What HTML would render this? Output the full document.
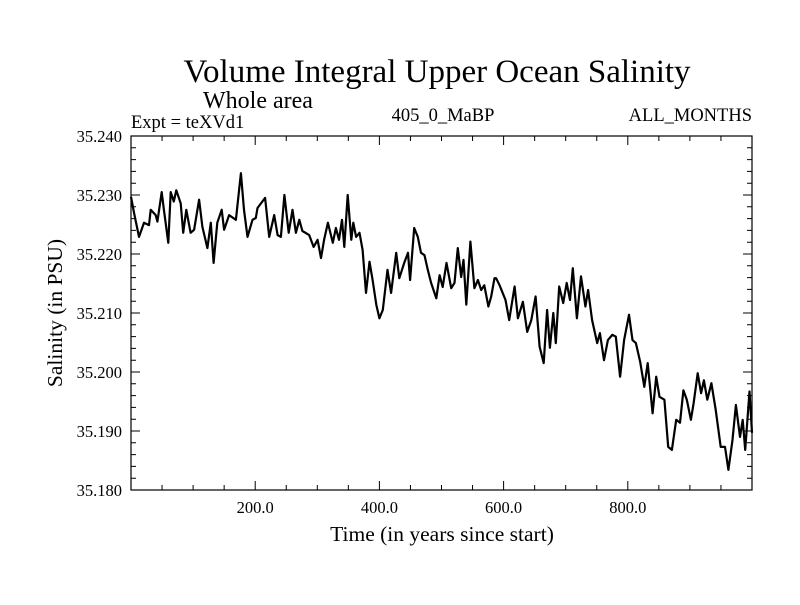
<!DOCTYPE html>
<html><head><meta charset="utf-8"><style>
body{margin:0;background:#fff;}
svg text{font-family:"Liberation Serif",serif;fill:#000;}
</style></head><body>
<svg id="chart" width="800" height="600" xmlns="http://www.w3.org/2000/svg">
<text x="437" y="82" font-size="33" text-anchor="middle">Volume Integral Upper Ocean Salinity</text>
<text x="203" y="108" font-size="24">Whole area</text>
<text x="131" y="128" font-size="18.5">Expt = teXVd1</text>
<text x="443" y="121" font-size="18.5" text-anchor="middle">405_0_MaBP</text>
<text x="752" y="121" font-size="18.5" text-anchor="end">ALL_MONTHS</text>
<text x="442" y="541" font-size="21.5" text-anchor="middle">Time (in years since start)</text>
<text transform="translate(62,313) rotate(-90)" font-size="21.5" text-anchor="middle">Salinity (in PSU)</text>
<g id="axes"></g>
<path id="line" fill="none" stroke="#000" stroke-width="2.2" stroke-linejoin="round"/>
<rect x="131" y="136" width="621" height="354" fill="none" stroke="#000" stroke-width="1.2"/>
</svg>
<script>
const years=[0,4.8,12.9,21,29,31.7,39.8,42.5,49.5,53,60,64,69,73,80,84,89,96,101.6,109.7,115,123,128.5,133,139,146,150,158,169,177,182,187.6,195.7,201,203.7,216,222.6,230.6,236,241.4,247,254,260,265.6,271,276,287,294,300.5,306,311,317,325,330,335,339.8,343.5,349,354.8,358,362.5,368,373,378.5,384,389,395,400,405.4,413,418.8,427,432,440,446,449.5,456,461.8,467,472.6,478,483.3,491.6,497,502,508,515.6,521,526.3,531.7,535.5,540,546.5,553,558.6,564,569,575.6,580,585.4,588,593.5,603,609,617.7,623,631,638,644.6,651.6,658,664.5,670,674.5,680,684,689.6,696,701.6,707,711.5,718,724.6,731.7,736,742.5,750.7,755,761.6,768,775,780.6,787.6,794,802,807.6,813,820,826.6,832,840,845.7,851,859,865,871,878,884,889.5,895,901.6,906,912.6,918,922.6,928,934.6,941.6,949.6,956.6,962,968.6,974,980.6,985,989,996,1000];
const salinity=[35.2297,35.2270,35.2229,35.2253,35.2249,35.2275,35.2266,35.2255,35.2305,35.2275,35.2219,35.2305,35.2289,35.2308,35.2286,35.2236,35.2275,35.2236,35.2241,35.2292,35.2246,35.2210,35.2253,35.2185,35.2253,35.2275,35.2241,35.2266,35.2258,35.2337,35.2275,35.2229,35.2258,35.2261,35.2278,35.2295,35.2229,35.2266,35.2232,35.2229,35.2300,35.2236,35.2275,35.2236,35.2258,35.2239,35.2232,35.2212,35.2224,35.2193,35.2224,35.2253,35.2219,35.2244,35.2224,35.2258,35.2212,35.2300,35.2224,35.2253,35.2229,35.2236,35.2207,35.2134,35.2187,35.2156,35.2114,35.2091,35.2105,35.2173,35.2134,35.2202,35.2159,35.2185,35.2202,35.2156,35.2244,35.2229,35.2202,35.2198,35.2173,35.2151,35.2125,35.2164,35.2144,35.2185,35.2142,35.2151,35.2210,35.2161,35.2190,35.2114,35.2221,35.2142,35.2156,35.2139,35.2147,35.2111,35.2128,35.2159,35.2159,35.2147,35.2122,35.2088,35.2145,35.2091,35.2119,35.2068,35.2088,35.2128,35.2043,35.2015,35.2105,35.2041,35.2100,35.2049,35.2145,35.2117,35.2151,35.2122,35.2176,35.2091,35.2162,35.2111,35.2139,35.2088,35.2049,35.2066,35.2020,35.2054,35.2063,35.2060,35.1992,35.2054,35.2097,35.2054,35.2049,35.2017,35.1975,35.2015,35.1930,35.1992,35.1958,35.1953,35.1873,35.1868,35.1919,35.1914,35.1969,35.1953,35.1919,35.1947,35.1998,35.1964,35.1986,35.1953,35.1981,35.1936,35.1873,35.1873,35.1834,35.1885,35.1944,35.1890,35.1919,35.1868,35.1967,35.1897];
const xTickLabels=["200.0","400.0","600.0","800.0"];
const xTickValues=[200,400,600,800];
const yTickLabels=["35.180","35.190","35.200","35.210","35.220","35.230","35.240"];
const yTickValues=[35.18,35.19,35.20,35.21,35.22,35.23,35.24];
const X0=131,X1=752,Y0=490,Y1=136,XMIN=0,XMAX=1000,YMIN=35.18,YMAX=35.24;
function sx(v){return X0+(v-XMIN)/(XMAX-XMIN)*(X1-X0);}
function sy(v){return Y0-(v-YMIN)/(YMAX-YMIN)*(Y0-Y1);}
const NS="http://www.w3.org/2000/svg";
const axes=document.getElementById('axes');
let d="";
for(let v=50;v<XMAX;v+=50){const x=sx(v);const L=(v%200===0)?9:5;d+=`M${x},${Y0}v${-L}M${x},${Y1}v${L}`;}
for(let i=1;i<30;i++){const v=YMIN+i*0.002;const y=sy(v);const L=(i%5===0)?9:5;d+=`M${X0},${y}h${L}M${X1},${y}h${-L}`;}
const tp=document.createElementNS(NS,'path');
tp.setAttribute('d',d);tp.setAttribute('stroke','#000');tp.setAttribute('stroke-width','1');


axes.appendChild(tp);
xTickValues.forEach((v,i)=>{const t=document.createElementNS(NS,'text');
t.setAttribute('x',sx(v));t.setAttribute('y',513);t.setAttribute('font-size','16.5');t.setAttribute('text-anchor','middle');
t.textContent=xTickLabels[i];


axes.appendChild(t);});
yTickValues.forEach((v,i)=>{const t=document.createElementNS(NS,'text');
t.setAttribute('x',122);t.setAttribute('y',sy(v)+6);t.setAttribute('font-size','16.5');t.setAttribute('text-anchor','end');
t.textContent=yTickLabels[i];


axes.appendChild(t);});
document.getElementById('line').setAttribute('d',years.map((yr,i)=>(i?'L':'M')+sx(yr).toFixed(1)+','+sy(salinity[i]).toFixed(1)).join(''));
</script>
</body></html>
